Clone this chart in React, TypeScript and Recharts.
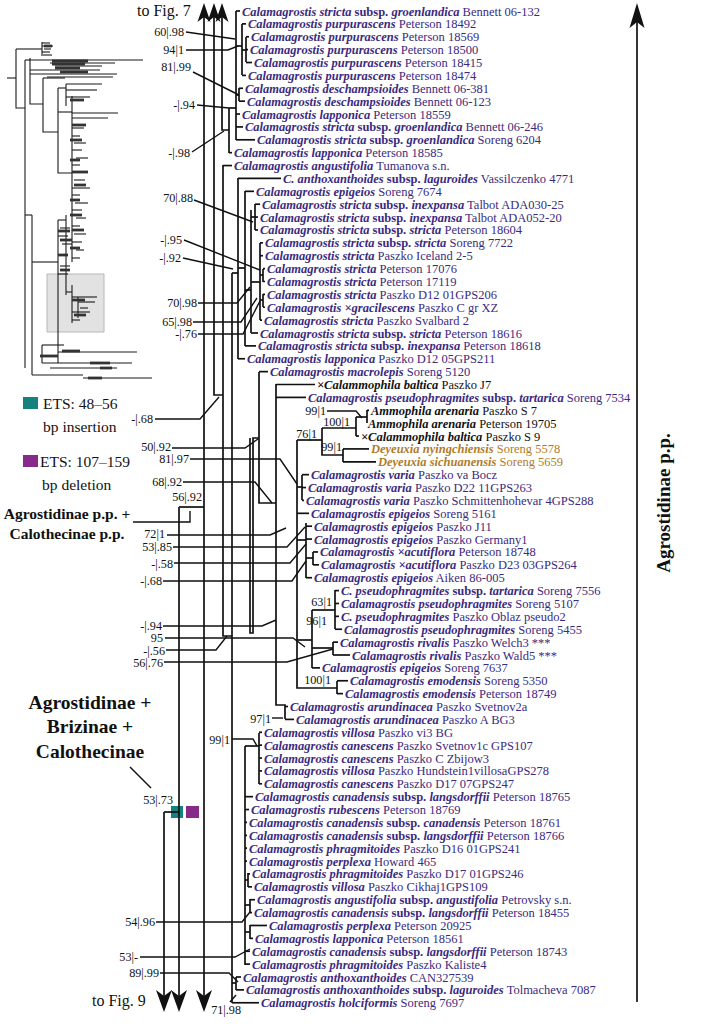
import { ComposedChart, Scatter, XAxis, YAxis, ReferenceArea } from "recharts";

const FONT = '"Liberation Serif", "Times New Roman", serif';
const INK = "#111";
const PURPLE = "#3b2a7e";
const GOLD = "#b07c2a";
const TEAL = "#16827f";
const MAGENTA = "#862b89";

// tips, top to bottom
const taxa = [
  "Calamagrostis stricta", "Calamagrostis purpurascens", "Calamagrostis purpurascens", "Calamagrostis purpurascens",
  "Calamagrostis purpurascens", "Calamagrostis purpurascens", "Calamagrostis deschampsioides", "Calamagrostis deschampsioides",
  "Calamagrostis lapponica", "Calamagrostis stricta", "Calamagrostis stricta", "Calamagrostis lapponica",
  "Calamagrostis angustifolia", "C. anthoxanthoides", "Calamagrostis epigeios", "Calamagrostis stricta",
  "Calamagrostis stricta", "Calamagrostis stricta", "Calamagrostis stricta", "Calamagrostis stricta",
  "Calamagrostis stricta", "Calamagrostis stricta", "Calamagrostis stricta", "Calamagrostis ×gracilescens",
  "Calamagrostis stricta", "Calamagrostis stricta", "Calamagrostis stricta", "Calamagrostis lapponica",
  "Calamagrostis macrolepis", "×Calammophila baltica", "Calamagrostis pseudophragmites", "Ammophila arenaria",
  "Ammophila arenaria", "×Calammophila baltica", "Deyeuxia nyingchiensis", "Deyeuxia sichuanensis",
  "Calamagrostis varia", "Calamagrostis varia", "Calamagrostis varia", "Calamagrostis epigeios",
  "Calamagrostis epigeios", "Calamagrostis epigeios", "Calamagrostis ×acutiflora", "Calamagrostis ×acutiflora",
  "Calamagrostis epigeios", "C. pseudophragmites", "Calamagrostis pseudophragmites", "C. pseudophragmites",
  "Calamagrostis pseudophragmites", "Calamagrostis rivalis", "Calamagrostis rivalis", "Calamagrostis epigeios",
  "Calamagrostis emodensis", "Calamagrostis emodensis", "Calamagrostis arundinacea", "Calamagrostis arundinacea",
  "Calamagrostis villosa", "Calamagrostis canescens", "Calamagrostis canescens", "Calamagrostis villosa",
  "Calamagrostis canescens", "Calamagrostis canadensis", "Calamagrostis rubescens", "Calamagrostis canadensis",
  "Calamagrostis canadensis", "Calamagrostis phragmitoides", "Calamagrostis perplexa", "Calamagrostis phragmitoides",
  "Calamagrostis villosa", "Calamagrostis angustifolia", "Calamagrostis canadensis", "Calamagrostis perplexa",
  "Calamagrostis lapponica", "Calamagrostis canadensis", "Calamagrostis phragmitoides", "Calamagrostis anthoxanthoides",
  "Calamagrostis anthoxanthoides", "Calamagrostis holciformis",
];

const subsp = [
  "groenlandica", "", "", "", "", "", "", "", "", "groenlandica", "groenlandica", "", "", "laguroides", "",
  "inexpansa", "inexpansa", "stricta", "stricta", "", "", "", "", "", "", "stricta", "inexpansa", "", "", "",
  "tartarica", "", "", "", "", "", "", "", "", "", "", "", "", "", "", "tartarica", "", "", "", "", "", "",
  "", "", "", "", "", "", "", "", "", "langsdorffii", "", "canadensis", "langsdorffii", "", "", "", "",
  "angustifolia", "langsdorffii", "", "", "langsdorffii", "", "", "laguroides", "",
];

const vouchers = [
  "Bennett 06-132", "Peterson 18492", "Peterson 18569", "Peterson 18500", "Peterson 18415", "Peterson 18474",
  "Bennett 06-381", "Bennett 06-123", "Peterson 18559", "Bennett 06-246", "Soreng 6204", "Peterson 18585",
  "Tumanova s.n.", "Vassilczenko 4771", "Soreng 7674", "Talbot ADA030-25", "Talbot ADA052-20", "Peterson 18604",
  "Soreng 7722", "Paszko Iceland 2-5", "Peterson 17076", "Peterson 17119", "Paszko D12 01GPS206", "Paszko C gr XZ",
  "Paszko Svalbard 2", "Peterson 18616", "Peterson 18618", "Paszko D12 05GPS211", "Soreng 5120", "Paszko J7",
  "Soreng 7534", "Paszko S 7", "Peterson 19705", "Paszko S 9", "Soreng 5578", "Soreng 5659", "Paszko va Bocz",
  "Paszko D22 11GPS263", "Paszko Schmittenhohevar 4GPS288", "Soreng 5161", "Paszko J11", "Paszko Germany1",
  "Peterson 18748", "Paszko D23 03GPS264", "Aiken 86-005", "Soreng 7556", "Soreng 5107", "Paszko Oblaz pseudo2",
  "Soreng 5455", "Paszko Welch3 ***", "Paszko Wald5 ***", "Soreng 7637", "Soreng 5350", "Peterson 18749",
  "Paszko Svetnov2a", "Paszko A BG3", "Paszko vi3 BG", "Paszko Svetnov1c GPS107", "Paszko C Zbijow3",
  "Paszko Hundstein1villosaGPS278", "Paszko D17 07GPS247", "Peterson 18765", "Peterson 18769", "Peterson 18761",
  "Peterson 18766", "Paszko D16 01GPS241", "Howard 465", "Paszko D17 01GPS246", "Paszko Cikhaj1GPS109",
  "Petrovsky s.n.", "Peterson 18455", "Peterson 20925", "Peterson 18561", "Peterson 18743", "Paszko Kaliste4",
  "CAN327539", "Tolmacheva 7087", "Soreng 7697",
];

// where each label starts, and the node it hangs from
const labelX = [
  242, 248, 251, 250, 254, 248, 245, 247, 242, 245, 257, 234, 234, 283, 256, 262, 260, 260, 265, 265,
  267, 267, 267, 267, 264, 260, 258, 247, 270, 317, 308, 371, 368, 361, 371, 378, 311, 308, 306, 311,
  314, 314, 320, 321, 314, 341, 341, 341, 344, 340, 352, 322, 350, 345, 290, 296, 264, 264, 264, 264,
  264, 255, 251, 249, 249, 249, 249, 252, 254, 257, 254, 269, 255, 252, 252, 243, 246, 261,
];
const tipX = [
  236, 242, 246, 246, 246, 242, 239, 239, 236, 236, 236, 229, 223, 238, 245, 255, 255, 255, 260, 260,
  263, 263, 263, 263, 260, 251, 245, 238, 259, 276, 276, 367, 367, 356, 343, 343, 302, 302, 302, 297,
  306, 306, 313, 313, 306, 335, 335, 335, 335, 333, 333, 312, 337, 337, 285, 285, 259, 259, 259, 259,
  259, 245, 245, 245, 245, 245, 245, 248, 248, 250, 250, 250, 250, 245, 245, 236, 236, 232,
];
const blackTips = [29, 31, 32, 33];
const goldTips = [34, 35];

const ROW0 = 11;
const ROW_STEP = 12.88;
const rowY = (i: number) => ROW0 + i * ROW_STEP;

// internal branches
const treeLines = [
  [[204, 8], [204, 1008]],
  [[214, 8], [214, 395], [223, 395]],
  [[222, 8], [222, 130], [229, 130]],
  [[229, 108], [229, 153]],
  [[229, 108], [236, 108]],
  [[236, 11], [236, 140]],
  [[236, 46], [242, 46]],
  [[242, 24], [242, 75]],
  [[242, 50], [246, 50]],
  [[246, 37], [246, 62]],
  [[236, 95], [239, 95]],
  [[239, 88], [239, 101]],
  [[223, 165], [223, 636], [232, 636]],
  [[232, 273], [232, 1003]],
  [[232, 273], [238, 273]],
  [[238, 178], [238, 359]],
  [[238, 268], [245, 268]],
  [[245, 191], [245, 346]],
  [[245, 290], [251, 290]],
  [[251, 210], [251, 333]],
  [[251, 217], [255, 217]],
  [[255, 204], [255, 230]],
  [[251, 282], [260, 282]],
  [[260, 243], [260, 320]],
  [[260, 275], [263, 275]],
  [[263, 269], [263, 282]],
  [[260, 300], [263, 300]],
  [[263, 294], [263, 307]],
  [[250, 438], [250, 633], [253, 633], [253, 438], [259, 438]],
  [[259, 372], [259, 503], [276, 503]],
  [[276, 384], [276, 705], [285, 705], [285, 719]],
  [[297, 440], [297, 688], [337, 688]],
  [[337, 681], [337, 694]],
  [[297, 440], [322, 440]],
  [[322, 428], [322, 455], [343, 455]],
  [[343, 449], [343, 462]],
  [[322, 428], [356, 428]],
  [[356, 417], [356, 436]],
  [[356, 417], [367, 417]],
  [[367, 410], [367, 423]],
  [[297, 487], [302, 487]],
  [[302, 475], [302, 500]],
  [[297, 540], [306, 540]],
  [[306, 523], [306, 578]],
  [[306, 558], [313, 558]],
  [[313, 552], [313, 565]],
  [[297, 640], [312, 640]],
  [[312, 610], [312, 668]],
  [[312, 610], [335, 610]],
  [[335, 590], [335, 629]],
  [[312, 648], [333, 648]],
  [[333, 642], [333, 655]],
  [[245, 746], [245, 965]],
  [[245, 746], [259, 746]],
  [[259, 733], [259, 784]],
  [[245, 880], [248, 880]],
  [[248, 873], [248, 887]],
  [[245, 905], [250, 905]],
  [[250, 899], [250, 912]],
  [[245, 932], [250, 932]],
  [[250, 925], [250, 939]],
  [[232, 983], [236, 983]],
  [[236, 977], [236, 990]],
  [[179, 507], [204, 507]],
  [[179, 507], [179, 1008]],
  [[164, 812], [179, 812]],
  [[164, 812], [164, 1008]],
  [[637, 8], [637, 1002]],
];

// support values (bootstrap | posterior), right-aligned
const supportValues = [
  "60|.98", "94|1", "81|.99", "-|.94", "-|.98", "70|.88", "-|.95", "-|.92", "70|.98", "65|.98", "-|.76",
  "-|.68", "50|.92", "81|.97", "68|.92", "56|.92", "72|1", "53|.85", "-|.58", "-|.68", "-|.94", "95",
  "-|.56", "56|.76", "97|1", "99|1", "100|1", "76|1", "99|1", "63|1", "96|1", "100|1", "99|1", "53|.73",
  "54|.96", "53|-", "89|.99", "71|.98",
];
const supportAt = [
  [184, 32], [184, 50], [191, 67], [195, 105], [190, 153], [193, 198], [182, 240], [181, 258], [197, 303],
  [192, 322], [197, 334], [153, 419], [171, 447], [189, 459], [182, 482], [202, 497], [165, 534], [172, 547],
  [173, 564], [162, 581], [162, 626], [163, 638], [165, 651], [163, 663], [271, 719], [326, 411], [350, 422],
  [317, 434], [342, 447], [332, 602], [327, 621], [331, 680], [230, 740], [173, 800], [155, 922], [138, 957],
  [159, 973], [241, 1010],
];

const leaderLines = [
  [[186, 32], [235, 39]],
  [[186, 50], [228, 50], [238, 46]],
  [[193, 72], [239, 95]],
  [[197, 105], [229, 108]],
  [[192, 152], [224, 131]],
  [[194, 200], [253, 222]],
  [[184, 240], [260, 270]],
  [[183, 258], [233, 269]],
  [[198, 303], [237, 303], [250, 287]],
  [[193, 322], [241, 322], [257, 298]],
  [[198, 334], [243, 334], [260, 301]],
  [[155, 419], [200, 419], [219, 397]],
  [[172, 448], [245, 448], [258, 439]],
  [[190, 459], [280, 459], [297, 484]],
  [[183, 482], [255, 482], [272, 503]],
  [[167, 535], [270, 535], [286, 528]],
  [[173, 547], [287, 547], [305, 527]],
  [[174, 563], [290, 563], [306, 544]],
  [[163, 581], [292, 581], [306, 561]],
  [[163, 626], [262, 626], [276, 620]],
  [[165, 638], [293, 638], [305, 647]],
  [[166, 650], [216, 650], [227, 636]],
  [[164, 662], [287, 662], [333, 649]],
  [[272, 718], [283, 718]],
  [[327, 411], [356, 411], [362, 418]],
  [[232, 739], [253, 739], [257, 746]],
  [[156, 922], [242, 922], [250, 912]],
  [[140, 957], [235, 957], [250, 949]],
  [[160, 973], [229, 973], [238, 982]],
  [[230, 1002], [236, 995]],
  [[133, 522], [190, 522], [190, 511]],
  [[130, 767], [151, 788]],
];

const arrowsUp = [[204, 3], [214, 3], [222, 3]];
const arrowsDown = [[164, 1012], [179, 1012], [204, 1012]];
const arrowMain = [[637, 3]];

const notes = [
  { text: "to Fig. 7", x: 137, y: 10, size: 16, bold: false, anchor: "start", rotate: 0 },
  { text: "to Fig. 9", x: 92, y: 1000, size: 16, bold: false, anchor: "start", rotate: 0 },
  { text: "ETS: 48–56", x: 43, y: 403, size: 15.5, bold: false, anchor: "start", rotate: 0 },
  { text: "bp insertion", x: 43, y: 426, size: 15.5, bold: false, anchor: "start", rotate: 0 },
  { text: "ETS: 107–159", x: 40, y: 461, size: 15.5, bold: false, anchor: "start", rotate: 0 },
  { text: "bp deletion", x: 42, y: 484, size: 15.5, bold: false, anchor: "start", rotate: 0 },
  { text: "Agrostidinae p.p. +", x: 67, y: 513, size: 15.5, bold: true, anchor: "middle", rotate: 0 },
  { text: "Calothecinae p.p.", x: 67, y: 533, size: 15.5, bold: true, anchor: "middle", rotate: 0 },
  { text: "Agrostidinae +", x: 90, y: 702, size: 19.5, bold: true, anchor: "middle", rotate: 0 },
  { text: "Brizinae +", x: 90, y: 726, size: 19.5, bold: true, anchor: "middle", rotate: 0 },
  { text: "Calothecinae", x: 90, y: 751, size: 19.5, bold: true, anchor: "middle", rotate: 0 },
  { text: "Agrostidinae p.p.", x: 663, y: 503, size: 19, bold: true, anchor: "middle", rotate: -90 },
];

// boxes: legend, indels on the 53|.73 branch
const boxes = [
  { x1: 23, x2: 38, y1: 397, y2: 409, fill: TEAL },
  { x1: 23, x2: 38, y1: 455, y2: 467, fill: MAGENTA },
  { x1: 171, x2: 183, y1: 806, y2: 818, fill: TEAL },
  { x1: 186, x2: 199, y1: 806, y2: 818, fill: MAGENTA },
];

// overview tree in the corner
const insetLines = [
  [[7, 78], [16, 78]], [[16, 49], [16, 108], [25, 108]], [[16, 49], [42, 49]], [[42, 42], [42, 56]],
  [[42, 43], [50, 43]], [[42, 46], [53, 46]], [[44, 49], [51, 49]], [[42, 52], [50, 52]], [[43, 55], [52, 55]],
  [[25, 60], [25, 368]], [[25, 60], [30, 60]], [[30, 58], [30, 104], [43, 104]], [[30, 60], [143, 60]],
  [[50, 63], [115, 63]], [[55, 66], [102, 66]], [[30, 70], [100, 70]], [[30, 74], [117, 74]], [[47, 77], [113, 77]],
  [[43, 78], [43, 132], [58, 132]], [[43, 78], [65, 78]], [[58, 88], [58, 173], [72, 173]], [[58, 88], [66, 88]],
  [[66, 84], [66, 106]], [[66, 84], [102, 84]], [[66, 90], [97, 90]], [[66, 97], [90, 97]], [[58, 112], [72, 112]],
  [[72, 96], [72, 262]], [[72, 113], [118, 113]], [[72, 118], [108, 118]], [[72, 128], [84, 128]],
  [[72, 136], [80, 136]], [[74, 143], [86, 143]], [[72, 150], [82, 150]], [[76, 158], [88, 158]],
  [[72, 165], [80, 165]], [[74, 180], [85, 180]], [[72, 188], [90, 188]], [[72, 195], [80, 195]],
  [[75, 203], [88, 203]], [[72, 210], [82, 210]], [[76, 218], [86, 218]], [[72, 226], [80, 226]],
  [[74, 234], [86, 234]], [[72, 242], [82, 242]], [[76, 250], [84, 250]], [[72, 258], [80, 258]],
  [[25, 215], [32, 215]], [[32, 215], [32, 375]], [[32, 262], [58, 262]], [[58, 220], [58, 363]],
  [[58, 220], [66, 220]], [[66, 215], [66, 295]], [[60, 228], [70, 228]], [[58, 236], [68, 236]],
  [[62, 244], [72, 244]], [[60, 266], [70, 266]], [[58, 274], [68, 274]], [[66, 292], [72, 292]],
  [[72, 285], [72, 323]], [[72, 297], [97, 297]], [[78, 297], [78, 318]], [[78, 302], [95, 302]],
  [[72, 312], [90, 312]], [[80, 308], [88, 308]], [[72, 320], [80, 320]], [[42, 345], [64, 345]],
  [[42, 345], [42, 363]], [[58, 352], [137, 352]], [[42, 363], [132, 363]], [[50, 368], [117, 368]],
  [[32, 375], [83, 375]], [[83, 378], [152, 378]],
];
const insetBars = [
  [[52, 61], [88, 61]], [[52, 64], [85, 64]], [[55, 68], [80, 68]], [[60, 72], [88, 72]], [[44, 46], [52, 46]],
  [[70, 100], [84, 100]], [[72, 125], [86, 125]], [[70, 140], [82, 140]], [[70, 160], [80, 160]],
  [[72, 172], [88, 172]], [[74, 185], [86, 185]], [[70, 200], [80, 200]], [[70, 215], [82, 215]],
  [[72, 230], [84, 230]], [[70, 248], [80, 248]], [[58, 231], [70, 231]], [[60, 240], [72, 240]],
  [[58, 255], [68, 255]], [[60, 270], [70, 270]], [[72, 300], [85, 300]], [[74, 315], [86, 315]],
  [[62, 351], [80, 351]], [[90, 363], [110, 363]], [[100, 368], [112, 368]], [[88, 378], [102, 378]],
  [[40, 356], [58, 356]],
];

const NoDot = () => <g />;

function TipLabel(props: any) {
  const { cx, cy, payload } = props;
  const i = payload.i;
  const fill = goldTips.includes(i) ? GOLD : blackTips.includes(i) ? INK : PURPLE;
  return (
    <text x={cx} y={cy} dy="0.36em" fontFamily={FONT} fontSize={12.5} fill={fill} style={{ whiteSpace: "pre" }}>
      <tspan fontWeight="bold" fontStyle="italic">{taxa[i]}</tspan>
      {subsp[i] ? <tspan fontWeight="bold">{" subsp. "}</tspan> : null}
      {subsp[i] ? <tspan fontWeight="bold" fontStyle="italic">{subsp[i]}</tspan> : null}
      <tspan>{" " + vouchers[i]}</tspan>
    </text>
  );
}

function SupportLabel(props: any) {
  const { cx, cy, payload } = props;
  return (
    <text x={cx} y={cy} dy="0.36em" textAnchor="end" fontFamily={FONT} fontSize={12.2} fill={INK}>
      {payload.text}
    </text>
  );
}

function Note(props: any) {
  const { cx, cy, payload } = props;
  return (
    <text
      x={cx}
      y={cy}
      dy="0.36em"
      textAnchor={payload.anchor}
      fontFamily={FONT}
      fontSize={payload.size}
      fontWeight={payload.bold ? "bold" : "normal"}
      fill={INK}
      transform={payload.rotate ? `rotate(${payload.rotate} ${cx} ${cy})` : undefined}
    >
      {payload.text}
    </text>
  );
}

// notched arrowhead, tip at the point
function arrowShape(dir: number, len: number, half: number, notch: number) {
  return (props: any) => {
    const { cx, cy } = props;
    const b = cy + dir * len;
    const n = cy + dir * (len - notch);
    return <path d={`M${cx},${cy} L${cx + half},${b} L${cx},${n} L${cx - half},${b} Z`} fill={INK} />;
  };
}

function pathSeries(pts: number[][], key: string, width: number, color: string) {
  return (
    <Scatter
      key={key}
      data={pts.map(([x, y]) => ({ x, y }))}
      fill={color}
      line={{ stroke: color, strokeWidth: width }}
      shape={NoDot}
      isAnimationActive={false}
    />
  );
}

export default function App() {
  const tips = taxa.map((_, i) => ({ x: labelX[i], y: rowY(i), i }));
  const tipTicks = taxa
    .map((_, i) => [[tipX[i], rowY(i)], [labelX[i] - 2, rowY(i)]])
    .filter((seg) => seg[1][0] > seg[0][0]);
  const supports = supportValues.map((text, i) => ({ x: supportAt[i][0], y: supportAt[i][1], text }));

  return (
    <div style={{ position: "absolute", left: 0, top: 0, background: "#fff" }}>
      <ComposedChart width={718} height={1024} margin={{ top: 0, right: 0, bottom: 0, left: 0 }}>
        <XAxis type="number" dataKey="x" domain={[0, 718]} hide allowDataOverflow />
        <YAxis type="number" dataKey="y" domain={[0, 1024]} reversed hide allowDataOverflow />

        {insetLines.map((pts, k) => pathSeries(pts, `in-${k}`, 1.1, "#1a1a1a"))}
        {insetBars.map((pts, k) => pathSeries(pts, `bar-${k}`, 2.8, "#333"))}
        <ReferenceArea x1={47} x2={104} y1={274} y2={332} fill="#cfcfcf" fillOpacity={0.6} stroke="#b8b8b8" ifOverflow="visible" />

        {treeLines.map((pts, k) => pathSeries(pts, `tr-${k}`, 1.7, INK))}
        {tipTicks.map((pts, k) => pathSeries(pts, `tk-${k}`, 1.7, INK))}
        {leaderLines.map((pts, k) => pathSeries(pts, `ld-${k}`, 1.4, INK))}

        {boxes.map((b, k) => (
          <ReferenceArea key={`bx-${k}`} x1={b.x1} x2={b.x2} y1={b.y1} y2={b.y2} fill={b.fill} fillOpacity={1} stroke="none" ifOverflow="visible" />
        ))}

        <Scatter data={arrowsUp.map(([x, y]) => ({ x, y }))} shape={arrowShape(1, 19, 6.5, 5)} isAnimationActive={false} />
        <Scatter data={arrowsDown.map(([x, y]) => ({ x, y }))} shape={arrowShape(-1, 22, 8, 6)} isAnimationActive={false} />
        <Scatter data={arrowMain.map(([x, y]) => ({ x, y }))} shape={arrowShape(1, 25, 7.5, 6)} isAnimationActive={false} />

        <Scatter data={tips} shape={TipLabel} isAnimationActive={false} />
        <Scatter data={supports} shape={SupportLabel} isAnimationActive={false} />
        <Scatter data={notes} shape={Note} isAnimationActive={false} />
      </ComposedChart>
    </div>
  );
}
